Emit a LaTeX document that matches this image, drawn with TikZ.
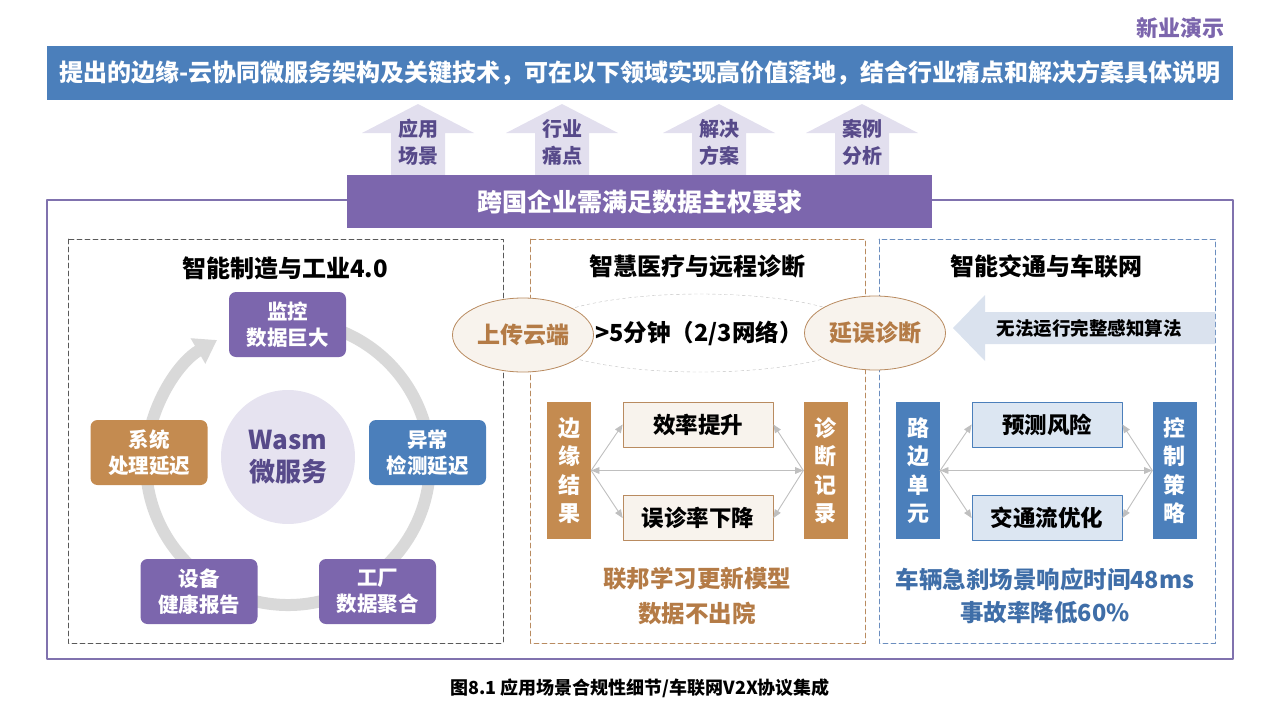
\documentclass[tikz,border=0pt]{standalone}
\usepackage{fontspec}
\setmainfont{Noto Sans CJK SC}
\usepackage{tikz}
\usetikzlibrary{arrows.meta,arrows,shapes.geometric}
\definecolor{mainblue}{HTML}{4B7FBB}
\definecolor{mainpurple}{HTML}{7C66AD}
\definecolor{framepurple}{HTML}{8072AE}
\definecolor{lavender}{HTML}{E2DFEE}
\definecolor{darkpurple}{HTML}{574A8A}
\definecolor{tanbox}{HTML}{C48B50}
\definecolor{tantext}{HTML}{B47B46}
\definecolor{tandash}{HTML}{B98B60}
\definecolor{creamfill}{HTML}{F8F3ED}
\definecolor{bluedash}{HTML}{6B8EBF}
\definecolor{paleblue}{HTML}{DCE6F2}
\definecolor{arrowblue}{HTML}{DAE2EE}
\definecolor{ringgray}{HTML}{D9D9D9}
\definecolor{hubfill}{HTML}{E6E3F0}
\definecolor{linkgray}{HTML}{BFBFBF}
\definecolor{resultblue}{HTML}{3F6EA8}
\newcommand{\fsz}[2]{\fontsize{#1}{#2}\selectfont}

\begin{document}
\begin{tikzpicture}[x=1pt,y=-1pt,line cap=round,line join=round,>=triangle 45,
  rbox/.style={rounded corners=7pt,minimum width=117pt,minimum height=65pt,align=center,text=white,font=\bfseries\fsz{20.5}{26}},
  vbox/.style={minimum width=44pt,minimum height=137pt,inner sep=0pt,align=center,text=white,font=\bfseries\fsz{22}{28.5}},
  midbox/.style={draw,line width=0.8pt,minimum width=150pt,minimum height=45pt,inner sep=0pt,font=\bfseries\fsz{22.5}{25}},
  oval/.style={ellipse,draw=tandash,line width=0.8pt,fill=creamfill,minimum width=141pt,minimum height=74pt,inner sep=0pt,text=tantext,font=\bfseries\fsz{23}{25}},
  paneltitle/.style={font=\bfseries\fsz{24}{26}},
  panel/.style={dash pattern=on 5pt off 3pt,line width=0.8pt},
  link/.style={draw=linkgray,line width=0.9pt}]
\useasboundingbox (0,0) rectangle (1280,720);

% heading
\node[text=mainpurple,font=\bfseries\fsz{22}{24}] (demo) at (1180,28) {新业演示};
\node[fill=mainblue,minimum width=1186pt,minimum height=54pt,text=white,font=\bfseries\fsz{24}{26}] (banner) at (640,73) {提出的边缘-云协同微服务架构及关键技术，可在以下领域实现高价值落地，结合行业痛点和解决方案具体说明};

% up arrows
\foreach \cx/\txt [count=\i] in {418/{应用\\场景},562/{行业\\痛点},719/{解决\\方案},862/{案例\\分析}}{
  \fill[lavender] (\cx-27,180) -- (\cx-27,133) -- (\cx-56,133) -- (\cx,104) -- (\cx+56,133) -- (\cx+27,133) -- (\cx+27,180) -- cycle;
  \node[align=center,text=darkpurple,font=\bfseries\fsz{20}{27}] (up\i) at (\cx,142) {\txt};
}

% frame
\draw[framepurple,line width=2pt] (47,200) rectangle (1233,659);
\node[fill=mainpurple,minimum width=585pt,minimum height=53pt,text=white,font=\bfseries\fsz{25}{28}] (need) at (639.5,201.5) {跨国企业需满足数据主权要求};

% panels
\draw[panel,black!65] (68,239) rectangle (503,643);
\draw[panel,tandash] (530,239) rectangle (865,643);
\draw[panel,bluedash] (879,239) rectangle (1215,643);
\node[paneltitle] (t1) at (285,268) {智能制造与工业4.0};
\node[paneltitle] (t2) at (697,266) {智慧医疗与远程诊断};
\node[paneltitle] (t3) at (1046,266) {智能交通与车联网};

% industry 4.0
\coordinate (ringc) at (288,463);
\draw[ringgray,line width=12pt,line cap=butt,-{Triangle[width=28pt,length=22pt]}] ([shift={(-80:142)}]ringc) arc[start angle=-80,end angle=240,radius=142];
\node[circle,fill=hubfill,minimum size=134pt,inner sep=0pt,align=center,text=darkpurple,font=\bfseries\fsz{26}{32}] (hub) at (288,457) {Wasm\\微服务};
\node[rbox,fill=mainpurple] (mon) at (287.5,324.5) {监控\\数据巨大};
\node[rbox,fill=mainblue] (anom) at (427.5,452.5) {异常\\检测延迟};
\node[rbox,fill=tanbox] (sys) at (149,452.5) {系统\\处理延迟};
\node[rbox,fill=mainpurple] (dev) at (199,591.5) {设备\\健康报告};
\node[rbox,fill=mainpurple] (fac) at (377.5,591.5) {工厂\\数据聚合};

% medical
\draw[black!25,dashed] (700,333) ellipse [x radius=165,y radius=39];
\node[oval] (upload) at (523,335) {上传云端};
\node[oval] (delay) at (875,333) {延误诊断};
\node[font=\bfseries\fsz{23.5}{25}] (lag) at (699,333) {>5分钟（2/3网络）};
\node[vbox,fill=tanbox] (edgeres) at (569,470.5) {边\\缘\\结\\果};
\node[vbox,fill=tanbox] (diagrec) at (825.5,470.5) {诊\\断\\记\\录};
\node[midbox,draw=tandash,fill=creamfill] (eff) at (698,424.5) {效率提升};
\node[midbox,draw=tandash,fill=creamfill] (mis) at (698,518) {误诊率下降};
\draw[link,->] (edgeres.east) -- (eff.west);
\draw[link,->] (edgeres.east) -- (mis.west);
\draw[link,<->] (edgeres.east) -- (diagrec.west);
\draw[link,->] (diagrec.west) -- (eff.east);
\draw[link,->] (diagrec.west) -- (mis.east);
\node[align=center,text=tantext,font=\bfseries\fsz{23.5}{35}] (fed) at (697,596) {联邦学习更新模型\\数据不出院};

% traffic
\fill[arrowblue] (953,328) -- (985,295) -- (985,312) -- (1215,312) -- (1215,344) -- (985,344) -- (985,361) -- cycle;
\node[font=\bfseries\fsz{18.5}{20}] (algo) at (1089,328) {无法运行完整感知算法};
\node[vbox,fill=mainblue] (rsu) at (918,470.5) {路\\边\\单\\元};
\node[vbox,fill=mainblue] (ctrl) at (1174.5,470.5) {控\\制\\策\\略};
\node[midbox,draw=mainblue,fill=paleblue] (risk) at (1047,424.5) {预测风险};
\node[midbox,draw=mainblue,fill=paleblue] (flow) at (1047,518) {交通流优化};
\draw[link,->] (rsu.east) -- (risk.west);
\draw[link,->] (rsu.east) -- (flow.west);
\draw[link,<->] (rsu.east) -- (ctrl.west);
\draw[link,->] (ctrl.west) -- (risk.east);
\draw[link,->] (ctrl.west) -- (flow.east);
\node[align=center,text=resultblue,font=\bfseries\fsz{23.5}{33}] (resp) at (1045,596) {车辆急刹场景响应时间48ms\\事故率降低60\%};

% caption
\node[font=\bfseries\fsz{18}{20}] (cap) at (640,688) {图8.1 应用场景合规性细节/车联网V2X协议集成};
\end{tikzpicture}
\end{document}
